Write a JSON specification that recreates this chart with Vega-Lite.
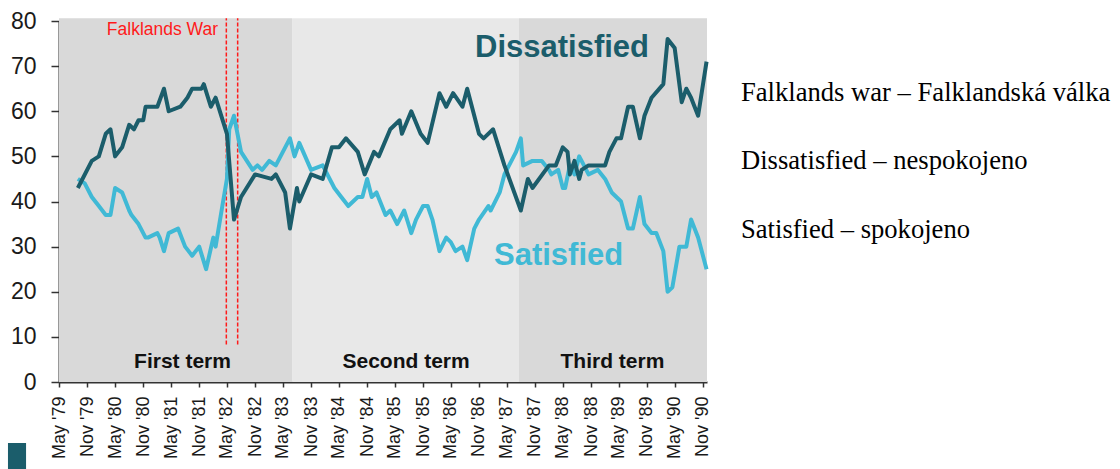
{
  "$schema": "https://vega.github.io/schema/vega-lite/v6.json",
  "width": 648,
  "height": 361,
  "autosize": {"type": "none"},
  "padding": {"left": 59, "top": 21, "right": 413, "bottom": 87},
  "background": "white",
  "config": {
    "view": {"stroke": null},
    "font": "Liberation Sans",
    "axis": {"grid": false, "zindex": 1, "domainColor": "#333333", "domainWidth": 2, "tickColor": "#333333", "tickWidth": 1.5, "labelFont": "Liberation Sans", "labelColor": "#1a1a1a"},
    "axisX": {"labelAngle": 270, "labelAlign": "right", "labelBaseline": "middle", "labelFontSize": 18, "labelPadding": 9, "labelOverlap": false, "labelBound": false, "labelFlush": false, "tickSize": 5},
    "axisY": {"labelFontSize": 23, "labelPadding": 15, "tickSize": 8, "labelOverlap": false}
  },
  "datasets": {
    "terms": [
      {"term": "First term", "start": "1979-05-01", "end": "1983-06-30"},
      {"term": "Second term", "start": "1983-06-30", "end": "1987-07-20"},
      {"term": "Third term", "start": "1987-07-20", "end": "1990-11-28"}
    ],
    "war": [
      {"event": "Invasion", "date": "1982-04-27"},
      {"event": "Surrender", "date": "1982-07-10"}
    ],
    "one": [{}],
    "polls": [
      {"series": "Dissatisfied", "date": "1979-09-01", "value": 43},
      {"series": "Dissatisfied", "date": "1979-12-01", "value": 49},
      {"series": "Dissatisfied", "date": "1980-01-16", "value": 50},
      {"series": "Dissatisfied", "date": "1980-03-01", "value": 55},
      {"series": "Dissatisfied", "date": "1980-04-01", "value": 56},
      {"series": "Dissatisfied", "date": "1980-05-01", "value": 50},
      {"series": "Dissatisfied", "date": "1980-06-16", "value": 52},
      {"series": "Dissatisfied", "date": "1980-08-01", "value": 57},
      {"series": "Dissatisfied", "date": "1980-09-01", "value": 56},
      {"series": "Dissatisfied", "date": "1980-10-01", "value": 58},
      {"series": "Dissatisfied", "date": "1980-11-01", "value": 58},
      {"series": "Dissatisfied", "date": "1980-11-16", "value": 61},
      {"series": "Dissatisfied", "date": "1981-02-01", "value": 61},
      {"series": "Dissatisfied", "date": "1981-03-16", "value": 65},
      {"series": "Dissatisfied", "date": "1981-04-16", "value": 60},
      {"series": "Dissatisfied", "date": "1981-07-01", "value": 61},
      {"series": "Dissatisfied", "date": "1981-08-16", "value": 63},
      {"series": "Dissatisfied", "date": "1981-09-16", "value": 65},
      {"series": "Dissatisfied", "date": "1981-11-16", "value": 65},
      {"series": "Dissatisfied", "date": "1981-12-01", "value": 66},
      {"series": "Dissatisfied", "date": "1982-01-16", "value": 61},
      {"series": "Dissatisfied", "date": "1982-02-16", "value": 63},
      {"series": "Dissatisfied", "date": "1982-05-01", "value": 55},
      {"series": "Dissatisfied", "date": "1982-06-16", "value": 36},
      {"series": "Dissatisfied", "date": "1982-08-01", "value": 41},
      {"series": "Dissatisfied", "date": "1982-11-01", "value": 46},
      {"series": "Dissatisfied", "date": "1983-02-16", "value": 45},
      {"series": "Dissatisfied", "date": "1983-03-16", "value": 46},
      {"series": "Dissatisfied", "date": "1983-05-16", "value": 42},
      {"series": "Dissatisfied", "date": "1983-06-16", "value": 34},
      {"series": "Dissatisfied", "date": "1983-08-01", "value": 43},
      {"series": "Dissatisfied", "date": "1983-08-16", "value": 40},
      {"series": "Dissatisfied", "date": "1983-11-01", "value": 46},
      {"series": "Dissatisfied", "date": "1984-01-16", "value": 45},
      {"series": "Dissatisfied", "date": "1984-03-16", "value": 52},
      {"series": "Dissatisfied", "date": "1984-05-01", "value": 52},
      {"series": "Dissatisfied", "date": "1984-06-16", "value": 54},
      {"series": "Dissatisfied", "date": "1984-09-01", "value": 51},
      {"series": "Dissatisfied", "date": "1984-10-16", "value": 46},
      {"series": "Dissatisfied", "date": "1984-12-16", "value": 51},
      {"series": "Dissatisfied", "date": "1985-01-16", "value": 50},
      {"series": "Dissatisfied", "date": "1985-04-01", "value": 56},
      {"series": "Dissatisfied", "date": "1985-06-01", "value": 58},
      {"series": "Dissatisfied", "date": "1985-06-16", "value": 55},
      {"series": "Dissatisfied", "date": "1985-08-16", "value": 60},
      {"series": "Dissatisfied", "date": "1985-10-16", "value": 55},
      {"series": "Dissatisfied", "date": "1985-12-01", "value": 53},
      {"series": "Dissatisfied", "date": "1986-02-16", "value": 64},
      {"series": "Dissatisfied", "date": "1986-04-01", "value": 61},
      {"series": "Dissatisfied", "date": "1986-05-16", "value": 64},
      {"series": "Dissatisfied", "date": "1986-07-16", "value": 61},
      {"series": "Dissatisfied", "date": "1986-08-16", "value": 65},
      {"series": "Dissatisfied", "date": "1986-11-01", "value": 55},
      {"series": "Dissatisfied", "date": "1986-12-01", "value": 54},
      {"series": "Dissatisfied", "date": "1987-02-01", "value": 56},
      {"series": "Dissatisfied", "date": "1987-04-16", "value": 48},
      {"series": "Dissatisfied", "date": "1987-08-01", "value": 38},
      {"series": "Dissatisfied", "date": "1987-09-16", "value": 45},
      {"series": "Dissatisfied", "date": "1987-10-16", "value": 43},
      {"series": "Dissatisfied", "date": "1988-02-01", "value": 48},
      {"series": "Dissatisfied", "date": "1988-03-16", "value": 48},
      {"series": "Dissatisfied", "date": "1988-05-01", "value": 52},
      {"series": "Dissatisfied", "date": "1988-06-01", "value": 51},
      {"series": "Dissatisfied", "date": "1988-06-16", "value": 46},
      {"series": "Dissatisfied", "date": "1988-07-16", "value": 49},
      {"series": "Dissatisfied", "date": "1988-08-16", "value": 45},
      {"series": "Dissatisfied", "date": "1988-09-01", "value": 47},
      {"series": "Dissatisfied", "date": "1988-10-16", "value": 48},
      {"series": "Dissatisfied", "date": "1989-02-01", "value": 48},
      {"series": "Dissatisfied", "date": "1989-03-01", "value": 51},
      {"series": "Dissatisfied", "date": "1989-04-16", "value": 54},
      {"series": "Dissatisfied", "date": "1989-05-16", "value": 54},
      {"series": "Dissatisfied", "date": "1989-07-01", "value": 61},
      {"series": "Dissatisfied", "date": "1989-08-01", "value": 61},
      {"series": "Dissatisfied", "date": "1989-09-16", "value": 54},
      {"series": "Dissatisfied", "date": "1989-10-16", "value": 59},
      {"series": "Dissatisfied", "date": "1989-12-01", "value": 63},
      {"series": "Dissatisfied", "date": "1990-02-16", "value": 66},
      {"series": "Dissatisfied", "date": "1990-03-16", "value": 76},
      {"series": "Dissatisfied", "date": "1990-05-01", "value": 74},
      {"series": "Dissatisfied", "date": "1990-06-16", "value": 62},
      {"series": "Dissatisfied", "date": "1990-07-16", "value": 65},
      {"series": "Dissatisfied", "date": "1990-08-16", "value": 63},
      {"series": "Dissatisfied", "date": "1990-10-01", "value": 59},
      {"series": "Dissatisfied", "date": "1990-11-25", "value": 71},
      {"series": "Satisfied", "date": "1979-09-01", "value": 45},
      {"series": "Satisfied", "date": "1979-10-16", "value": 44},
      {"series": "Satisfied", "date": "1979-12-01", "value": 41},
      {"series": "Satisfied", "date": "1980-01-16", "value": 39},
      {"series": "Satisfied", "date": "1980-03-01", "value": 37},
      {"series": "Satisfied", "date": "1980-04-01", "value": 37},
      {"series": "Satisfied", "date": "1980-05-01", "value": 43},
      {"series": "Satisfied", "date": "1980-06-16", "value": 42},
      {"series": "Satisfied", "date": "1980-08-01", "value": 38},
      {"series": "Satisfied", "date": "1980-08-16", "value": 37},
      {"series": "Satisfied", "date": "1980-10-01", "value": 35},
      {"series": "Satisfied", "date": "1980-11-16", "value": 32},
      {"series": "Satisfied", "date": "1980-12-01", "value": 32},
      {"series": "Satisfied", "date": "1981-02-01", "value": 33},
      {"series": "Satisfied", "date": "1981-02-16", "value": 32},
      {"series": "Satisfied", "date": "1981-03-16", "value": 29},
      {"series": "Satisfied", "date": "1981-04-16", "value": 33},
      {"series": "Satisfied", "date": "1981-06-16", "value": 34},
      {"series": "Satisfied", "date": "1981-08-01", "value": 30},
      {"series": "Satisfied", "date": "1981-09-16", "value": 28},
      {"series": "Satisfied", "date": "1981-11-01", "value": 30},
      {"series": "Satisfied", "date": "1981-12-16", "value": 25},
      {"series": "Satisfied", "date": "1982-02-01", "value": 32},
      {"series": "Satisfied", "date": "1982-02-16", "value": 30},
      {"series": "Satisfied", "date": "1982-04-01", "value": 39},
      {"series": "Satisfied", "date": "1982-05-01", "value": 45},
      {"series": "Satisfied", "date": "1982-05-16", "value": 56},
      {"series": "Satisfied", "date": "1982-06-16", "value": 59},
      {"series": "Satisfied", "date": "1982-08-01", "value": 51},
      {"series": "Satisfied", "date": "1982-10-16", "value": 47},
      {"series": "Satisfied", "date": "1982-11-16", "value": 48},
      {"series": "Satisfied", "date": "1982-12-16", "value": 47},
      {"series": "Satisfied", "date": "1983-02-01", "value": 49},
      {"series": "Satisfied", "date": "1983-03-16", "value": 48},
      {"series": "Satisfied", "date": "1983-05-01", "value": 51},
      {"series": "Satisfied", "date": "1983-06-16", "value": 54},
      {"series": "Satisfied", "date": "1983-07-16", "value": 50},
      {"series": "Satisfied", "date": "1983-08-16", "value": 53},
      {"series": "Satisfied", "date": "1983-11-01", "value": 47},
      {"series": "Satisfied", "date": "1984-01-16", "value": 48},
      {"series": "Satisfied", "date": "1984-04-01", "value": 43},
      {"series": "Satisfied", "date": "1984-05-16", "value": 41},
      {"series": "Satisfied", "date": "1984-07-01", "value": 39},
      {"series": "Satisfied", "date": "1984-09-01", "value": 41},
      {"series": "Satisfied", "date": "1984-10-01", "value": 41},
      {"series": "Satisfied", "date": "1984-11-01", "value": 45},
      {"series": "Satisfied", "date": "1984-12-01", "value": 41},
      {"series": "Satisfied", "date": "1985-01-01", "value": 42},
      {"series": "Satisfied", "date": "1985-03-01", "value": 37},
      {"series": "Satisfied", "date": "1985-04-01", "value": 38},
      {"series": "Satisfied", "date": "1985-05-16", "value": 35},
      {"series": "Satisfied", "date": "1985-07-01", "value": 38},
      {"series": "Satisfied", "date": "1985-08-16", "value": 33},
      {"series": "Satisfied", "date": "1985-09-16", "value": 36},
      {"series": "Satisfied", "date": "1985-11-01", "value": 39},
      {"series": "Satisfied", "date": "1985-12-01", "value": 39},
      {"series": "Satisfied", "date": "1986-01-01", "value": 36},
      {"series": "Satisfied", "date": "1986-02-16", "value": 29},
      {"series": "Satisfied", "date": "1986-04-01", "value": 32},
      {"series": "Satisfied", "date": "1986-05-01", "value": 31},
      {"series": "Satisfied", "date": "1986-06-01", "value": 29},
      {"series": "Satisfied", "date": "1986-07-16", "value": 30},
      {"series": "Satisfied", "date": "1986-08-16", "value": 27},
      {"series": "Satisfied", "date": "1986-10-01", "value": 34},
      {"series": "Satisfied", "date": "1986-11-01", "value": 36},
      {"series": "Satisfied", "date": "1987-01-01", "value": 39},
      {"series": "Satisfied", "date": "1987-01-16", "value": 38},
      {"series": "Satisfied", "date": "1987-03-16", "value": 42},
      {"series": "Satisfied", "date": "1987-04-16", "value": 46},
      {"series": "Satisfied", "date": "1987-07-01", "value": 51},
      {"series": "Satisfied", "date": "1987-08-01", "value": 54},
      {"series": "Satisfied", "date": "1987-08-16", "value": 48},
      {"series": "Satisfied", "date": "1987-10-16", "value": 49},
      {"series": "Satisfied", "date": "1987-12-16", "value": 49},
      {"series": "Satisfied", "date": "1988-02-01", "value": 47},
      {"series": "Satisfied", "date": "1988-02-16", "value": 46},
      {"series": "Satisfied", "date": "1988-04-01", "value": 47},
      {"series": "Satisfied", "date": "1988-05-01", "value": 43},
      {"series": "Satisfied", "date": "1988-05-16", "value": 43},
      {"series": "Satisfied", "date": "1988-06-16", "value": 48},
      {"series": "Satisfied", "date": "1988-07-16", "value": 46},
      {"series": "Satisfied", "date": "1988-08-16", "value": 50},
      {"series": "Satisfied", "date": "1988-09-16", "value": 48},
      {"series": "Satisfied", "date": "1988-10-16", "value": 46},
      {"series": "Satisfied", "date": "1988-12-16", "value": 47},
      {"series": "Satisfied", "date": "1989-02-01", "value": 45},
      {"series": "Satisfied", "date": "1989-03-16", "value": 42},
      {"series": "Satisfied", "date": "1989-05-16", "value": 40},
      {"series": "Satisfied", "date": "1989-07-01", "value": 34},
      {"series": "Satisfied", "date": "1989-08-01", "value": 34},
      {"series": "Satisfied", "date": "1989-09-16", "value": 41},
      {"series": "Satisfied", "date": "1989-10-16", "value": 35},
      {"series": "Satisfied", "date": "1989-12-01", "value": 33},
      {"series": "Satisfied", "date": "1990-01-01", "value": 33},
      {"series": "Satisfied", "date": "1990-02-16", "value": 29},
      {"series": "Satisfied", "date": "1990-03-16", "value": 20},
      {"series": "Satisfied", "date": "1990-04-16", "value": 21},
      {"series": "Satisfied", "date": "1990-06-01", "value": 30},
      {"series": "Satisfied", "date": "1990-07-16", "value": 30},
      {"series": "Satisfied", "date": "1990-08-16", "value": 36},
      {"series": "Satisfied", "date": "1990-10-01", "value": 32},
      {"series": "Satisfied", "date": "1990-11-25", "value": 25}
    ]
  },
  "layer": [
    {
      "data": {"name": "terms"},
      "mark": {"type": "rect"},
      "encoding": {
        "x": {
          "field": "start", "type": "temporal",
          "scale": {"type": "utc", "domain": [{"year": 1979, "month": 5, "date": 1, "utc": true}, {"year": 1990, "month": 11, "date": 28, "utc": true}]},
          "axis": {
            "title": null,
            "tickCount": 100,
            "values": [
              {"year": 1979, "month": 5, "date": 1, "utc": true}, {"year": 1979, "month": 11, "date": 1, "utc": true},
              {"year": 1980, "month": 5, "date": 1, "utc": true}, {"year": 1980, "month": 11, "date": 1, "utc": true},
              {"year": 1981, "month": 5, "date": 1, "utc": true}, {"year": 1981, "month": 11, "date": 1, "utc": true},
              {"year": 1982, "month": 5, "date": 1, "utc": true}, {"year": 1982, "month": 11, "date": 1, "utc": true},
              {"year": 1983, "month": 5, "date": 1, "utc": true}, {"year": 1983, "month": 11, "date": 1, "utc": true},
              {"year": 1984, "month": 5, "date": 1, "utc": true}, {"year": 1984, "month": 11, "date": 1, "utc": true},
              {"year": 1985, "month": 5, "date": 1, "utc": true}, {"year": 1985, "month": 11, "date": 1, "utc": true},
              {"year": 1986, "month": 5, "date": 1, "utc": true}, {"year": 1986, "month": 11, "date": 1, "utc": true},
              {"year": 1987, "month": 5, "date": 1, "utc": true}, {"year": 1987, "month": 11, "date": 1, "utc": true},
              {"year": 1988, "month": 5, "date": 1, "utc": true}, {"year": 1988, "month": 11, "date": 1, "utc": true},
              {"year": 1989, "month": 5, "date": 1, "utc": true}, {"year": 1989, "month": 11, "date": 1, "utc": true},
              {"year": 1990, "month": 5, "date": 1, "utc": true}, {"year": 1990, "month": 11, "date": 1, "utc": true}
            ],
            "labelExpr": "utcFormat(datum.value, \"%b '%y\")",
            "labelOverlap": false, "labelSeparation": 0, "labelBound": false, "labelFlush": false,
            "labelAngle": 270, "labelAlign": "right", "labelBaseline": "middle",
            "labelFontSize": 18, "labelPadding": 9, "tickSize": 5
          }
        },
        "x2": {"field": "end"},
        "y": {
          "datum": 0, "type": "quantitative",
          "scale": {"domain": [0, 80], "nice": false, "zero": true},
          "axis": {"title": null, "tickCount": 100, "values": [0, 10, 20, 30, 40, 50, 60, 70, 80], "labelFontSize": 23, "labelPadding": 15, "tickSize": 8, "labelOverlap": false}
        },
        "y2": {"datum": 80.6},
        "color": {
          "field": "term", "type": "nominal",
          "scale": {"domain": ["First term", "Second term", "Third term"], "range": ["#d9d9d9", "#e8e8e8", "#d9d9d9"]},
          "legend": null
        }
      }
    },
    {
      "data": {"name": "war"},
      "mark": {"type": "rule", "color": "#ff1a1a", "strokeWidth": 1.5, "strokeDash": [4, 2]},
      "encoding": {
        "x": {"field": "date", "type": "temporal"},
        "y": {"datum": 8.3, "type": "quantitative"},
        "y2": {"datum": 80.6}
      }
    },
    {
      "data": {"name": "polls"},
      "transform": [{"filter": "datum.series === 'Satisfied'"}],
      "mark": {"type": "line", "color": "#40b9d5", "strokeWidth": 4, "strokeJoin": "round"},
      "encoding": {
        "x": {"field": "date", "type": "temporal"},
        "y": {"field": "value", "type": "quantitative"}
      }
    },
    {
      "data": {"name": "polls"},
      "transform": [{"filter": "datum.series === 'Dissatisfied'"}],
      "mark": {"type": "line", "color": "#1b5d6b", "strokeWidth": 4, "strokeJoin": "round"},
      "encoding": {
        "x": {"field": "date", "type": "temporal"},
        "y": {"field": "value", "type": "quantitative"}
      }
    },
    {
      "data": {"name": "one"},
      "mark": {"type": "text", "text": "Falklands War", "color": "#ff1a1a", "font": "Liberation Sans", "fontSize": 17.5, "align": "right", "baseline": "alphabetic"},
      "encoding": {
        "x": {"datum": {"year": 1982, "month": 3, "date": 4, "utc": true}, "type": "temporal"},
        "y": {"datum": 76.9, "type": "quantitative"}
      }
    },
    {
      "data": {"name": "one"},
      "mark": {"type": "text", "text": "Dissatisfied", "color": "#1b5d6b", "font": "Liberation Sans", "fontWeight": "bold", "fontSize": 31, "align": "left", "baseline": "alphabetic"},
      "encoding": {
        "x": {"datum": {"year": 1986, "month": 10, "date": 6, "utc": true}, "type": "temporal"},
        "y": {"datum": 72, "type": "quantitative"}
      }
    },
    {
      "data": {"name": "one"},
      "mark": {"type": "text", "text": "Satisfied", "color": "#40b9d5", "font": "Liberation Sans", "fontWeight": "bold", "fontSize": 31, "align": "left", "baseline": "alphabetic"},
      "encoding": {
        "x": {"datum": {"year": 1987, "month": 2, "date": 7, "utc": true}, "type": "temporal"},
        "y": {"datum": 25.9, "type": "quantitative"}
      }
    },
    {
      "data": {"name": "one"},
      "mark": {"type": "text", "text": "First term", "color": "#111111", "font": "Liberation Sans", "fontWeight": "bold", "fontSize": 21, "align": "center", "baseline": "alphabetic"},
      "encoding": {
        "x": {"datum": {"year": 1981, "month": 7, "date": 15, "utc": true}, "type": "temporal"},
        "y": {"datum": 3.1, "type": "quantitative"}
      }
    },
    {
      "data": {"name": "one"},
      "mark": {"type": "text", "text": "Second term", "color": "#111111", "font": "Liberation Sans", "fontWeight": "bold", "fontSize": 21, "align": "center", "baseline": "alphabetic"},
      "encoding": {
        "x": {"datum": {"year": 1985, "month": 7, "date": 13, "utc": true}, "type": "temporal"},
        "y": {"datum": 3.1, "type": "quantitative"}
      }
    },
    {
      "data": {"name": "one"},
      "mark": {"type": "text", "text": "Third term", "color": "#111111", "font": "Liberation Sans", "fontWeight": "bold", "fontSize": 21, "align": "center", "baseline": "alphabetic"},
      "encoding": {
        "x": {"datum": {"year": 1989, "month": 3, "date": 21, "utc": true}, "type": "temporal"},
        "y": {"datum": 3.1, "type": "quantitative"}
      }
    },
    {
      "data": {"name": "one"},
      "mark": {"type": "text", "text": "Falklands war – Falklandská válka", "color": "#000000", "font": "Liberation Serif", "fontSize": 26.6, "align": "left", "baseline": "middle"},
      "encoding": {
        "x": {"datum": {"year": 1991, "month": 7, "date": 8, "utc": true}, "type": "temporal"},
        "y": {"datum": 64, "type": "quantitative"}
      }
    },
    {
      "data": {"name": "one"},
      "mark": {"type": "text", "text": "Dissatisfied – nespokojeno", "color": "#000000", "font": "Liberation Serif", "fontSize": 26.6, "align": "left", "baseline": "middle"},
      "encoding": {
        "x": {"datum": {"year": 1991, "month": 7, "date": 8, "utc": true}, "type": "temporal"},
        "y": {"datum": 49, "type": "quantitative"}
      }
    },
    {
      "data": {"name": "one"},
      "mark": {"type": "text", "text": "Satisfied – spokojeno", "color": "#000000", "font": "Liberation Serif", "fontSize": 26.6, "align": "left", "baseline": "middle"},
      "encoding": {
        "x": {"datum": {"year": 1991, "month": 7, "date": 8, "utc": true}, "type": "temporal"},
        "y": {"datum": 33.7, "type": "quantitative"}
      }
    },
    {
      "data": {"name": "one"},
      "mark": {"type": "rect", "color": "#1b5d6b"},
      "encoding": {
        "x": {"datum": {"year": 1978, "month": 6, "date": 2, "utc": true}, "type": "temporal"},
        "x2": {"datum": {"year": 1978, "month": 9, "date": 28, "utc": true}},
        "y": {"datum": -13.5, "type": "quantitative"},
        "y2": {"datum": -20}
      }
    }
  ]
}
